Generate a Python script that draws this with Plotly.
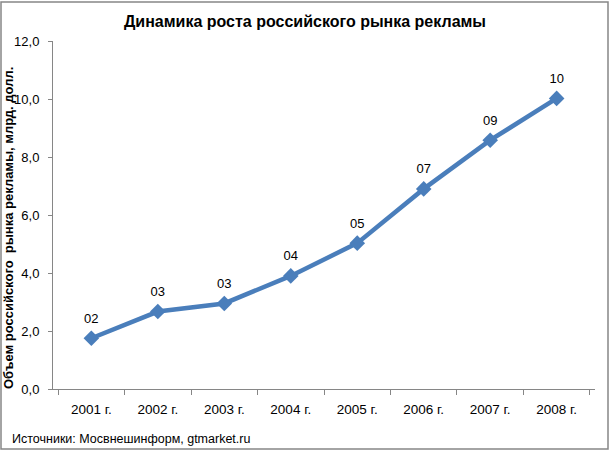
import plotly.graph_objects as go

# годы и объём рынка, млрд. долл.
years = ['2001 г.', '2002 г.', '2003 г.', '2004 г.', '2005 г.', '2006 г.', '2007 г.', '2008 г.']
volume = [1.75, 2.67, 2.95, 3.9, 5.03, 6.9, 8.58, 10.02]
labels = ['02', '03', '03', '04', '05', '07', '09', '10']

BLUE = '#4A7EBB'
GREY = '#868686'

fig = go.Figure()
fig.add_trace(go.Scatter(
    x=years, y=volume,
    mode='lines+markers',
    line=dict(color=BLUE, width=4.5),
    marker=dict(symbol='diamond', size=12, color=BLUE),
    cliponaxis=False,
    hoverinfo='x+y',
))
# подписи данных над точками
fig.add_trace(go.Scatter(
    x=years, y=volume, text=labels,
    mode='markers+text',
    textposition='top center',
    textfont=dict(size=13, color='black'),
    marker=dict(size=18, opacity=0),
    cliponaxis=False,
    hoverinfo='skip',
))

W, H = 610, 451
L, R, T, B = 53, 15, 41, 62
pw, ph = W - L - R, H - T - B


def px(x):
    return (x - L) / pw


def py(y):
    return (H - B - y) / ph


# рамка вокруг всей диаграммы
fig.add_shape(type='rect', xref='paper', yref='paper',
              x0=px(1), x1=px(608), y0=py(449), y1=py(2),
              line=dict(color=GREY, width=1.5))

fig.add_annotation(text='Источники: Мосвнешинформ, gtmarket.ru',
                   xref='paper', yref='paper', x=px(10), y=py(439),
                   xanchor='left', yanchor='middle', showarrow=False,
                   font=dict(size=12.5, color='black'))

fig.add_annotation(text='<b>Объем российского\u00a0 рынка рекламы, млрд. долл.</b>',
                   xref='paper', yref='paper', x=px(8), y=py(228),
                   xanchor='center', yanchor='middle', showarrow=False,
                   textangle=-90, font=dict(size=13, color='black'))

fig.update_layout(
    width=W, height=H,
    margin=dict(l=L, r=R, t=T, b=B),
    paper_bgcolor='white', plot_bgcolor='white',
    font=dict(family='Liberation Sans, Arial', size=13, color='black'),
    separators=', ',
    showlegend=False,
    title=dict(text='<b>Динамика роста российского рынка рекламы</b>',
               x=0.5, xanchor='center', y=(H - 21) / H, yanchor='middle',
               font=dict(size=16, color='black')),
    xaxis=dict(showline=True, linecolor=GREY, ticks='outside',
               tickson='boundaries', ticklen=5, tickcolor=GREY,
               ticklabelstandoff=8,
               showgrid=False, tickfont=dict(size=13.5), automargin=False),
    yaxis=dict(range=[0, 12], dtick=2, tickformat='.1f',
               showline=True, linecolor=GREY, ticks='outside',
               ticklen=4, tickcolor=GREY, showgrid=False,
               ticklabelstandoff=6,
               zeroline=False, tickfont=dict(size=13), automargin=False),
)

# убираем стандартный отступ страницы, чтобы диаграмма заняла всё окно
fig.write_html('out.html', config={'displayModeBar': False},
               post_script="document.body.style.margin='0';")
